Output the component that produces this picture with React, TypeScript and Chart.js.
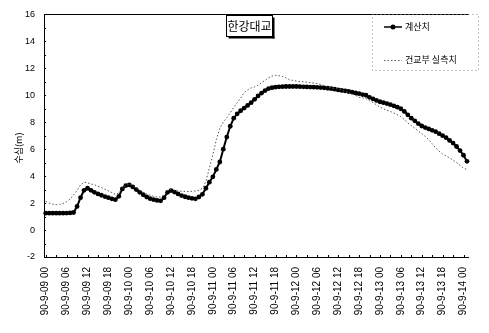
import React, { useEffect, useRef } from "react";
import { Chart, registerables } from "chart.js";

Chart.register(...registerables);

const chartTitle = "한강대교";
const yAxisTitle = "수심(m)";
const seriesNames = ["계산치", "건교부 실측치"];

const tickLabels = [
  "90-9-09 00", "90-9-09 06", "90-9-09 12", "90-9-09 18",
  "90-9-10 00", "90-9-10 06", "90-9-10 12", "90-9-10 18",
  "90-9-11 00", "90-9-11 06", "90-9-11 12", "90-9-11 18",
  "90-9-12 00", "90-9-12 06", "90-9-12 12", "90-9-12 18",
  "90-9-13 00", "90-9-13 06", "90-9-13 12", "90-9-13 18",
  "90-9-14 00",
];

// hourly water depth, computed (계산치)
const computed = [
  1.25, 1.25, 1.25, 1.25, 1.25, 1.25, 1.26, 1.27, 1.3, 1.75,
  2.4, 2.95, 3.1, 2.95, 2.8, 2.68, 2.58, 2.48, 2.4, 2.32,
  2.25, 2.5, 3.05, 3.3, 3.35, 3.2, 3.0, 2.8, 2.62, 2.45,
  2.33, 2.25, 2.2, 2.17, 2.4, 2.8, 2.93, 2.82, 2.68, 2.56,
  2.47, 2.4, 2.35, 2.32, 2.45, 2.65, 3.1, 3.55, 3.95, 4.5,
  5.05, 6.0, 6.9, 7.7, 8.3, 8.62, 8.85, 9.05, 9.25, 9.45,
  9.7, 9.95, 10.16, 10.35, 10.5, 10.56, 10.6, 10.63, 10.64, 10.65,
  10.65, 10.65, 10.65, 10.64, 10.63, 10.62, 10.61, 10.6, 10.59, 10.57,
  10.55, 10.52, 10.49, 10.45, 10.4, 10.36, 10.32, 10.28, 10.23, 10.17,
  10.12, 10.05, 10.0, 9.85, 9.73, 9.62, 9.52, 9.45, 9.38, 9.3,
  9.22, 9.12, 9.0, 8.8, 8.55, 8.3, 8.1, 7.9, 7.72, 7.6,
  7.5, 7.4, 7.3, 7.15, 7.0, 6.85, 6.65, 6.45, 6.2, 5.9,
  5.55, 5.1,
];

// hourly water depth, observed (건교부 실측치)
const observed = [
  2.12, 2.0, 1.92, 1.88, 1.9, 1.98, 2.1, 2.3, 2.6, 2.95,
  3.35, 3.55, 3.5, 3.42, 3.35, 3.25, 3.15, 3.03, 2.9, 2.78,
  2.65, 2.75, 3.1, 3.35, 3.4, 3.3, 3.12, 2.95, 2.8, 2.68,
  2.58, 2.5, 2.45, 2.45, 2.6, 2.95, 3.05, 2.95, 2.9, 2.88,
  2.86, 2.86, 2.87, 2.9, 2.95, 3.1, 3.6, 4.6, 5.6, 6.7,
  7.55, 8.0, 8.35, 8.7, 9.1, 9.45, 9.8, 10.2, 10.4, 10.55,
  10.62, 10.75, 10.95, 11.1, 11.3, 11.42, 11.48, 11.45, 11.4, 11.3,
  11.15, 11.1, 11.05, 11.02, 11.0, 10.97, 10.93, 10.9, 10.88, 10.8,
  10.7, 10.6, 10.55, 10.5, 10.45, 10.38, 10.3, 10.2, 10.08, 10.0,
  9.85, 9.8, 9.75, 9.6, 9.45, 9.3, 9.12, 9.0, 8.9, 8.8,
  8.68, 8.55, 8.42, 8.2, 7.95, 7.75, 7.55, 7.35, 7.15, 6.95,
  6.7, 6.4, 6.1, 5.85, 5.65, 5.5, 5.35, 5.18, 5.0, 4.8,
  4.6, 4.48,
];

const yMin = -2;
const yMax = 16;
const yStep = 2;

const categories = computed.map((_, i) =>
  i % 6 === 0 && tickLabels[i / 6] ? tickLabels[i / 6] : ""
);

const decorations = {
  id: "decorations",
  afterDraw(chart: any) {
    const ctx = chart.ctx as CanvasRenderingContext2D;
    const area = chart.chartArea;
    const xs = chart.scales.x;
    const ys = chart.scales.y;
    ctx.save();

    // small inward tick marks
    ctx.strokeStyle = "#000";
    ctx.lineWidth = 1;
    ctx.beginPath();
    for (let i = 0; i < categories.length; i += 3) {
      const px = Math.round(xs.getPixelForValue(i)) + 0.5;
      ctx.moveTo(px, area.bottom);
      ctx.lineTo(px, area.bottom - 2);
    }
    for (let v = yMin; v <= yMax; v += 1) {
      const py = Math.round(ys.getPixelForValue(v)) + 0.5;
      ctx.moveTo(area.left, py);
      ctx.lineTo(area.left + 2, py);
    }
    ctx.stroke();

    // y-axis title
    ctx.save();
    ctx.translate(19, 148);
    ctx.rotate(-Math.PI / 2);
    ctx.fillStyle = "#000";
    ctx.font = "9px 'Noto Sans CJK KR', 'Liberation Sans', sans-serif";
    ctx.textAlign = "center";
    ctx.textBaseline = "middle";
    ctx.fillText(yAxisTitle, 0, 0);
    ctx.restore();

    // title box with shadow
    const tx = 226.5, ty = 15.5, tw = 46, th = 21;
    ctx.fillStyle = "#000";
    ctx.fillRect(tx + 2, ty + th, tw, 2);
    ctx.fillRect(tx + tw, ty + 2, 2, th);
    ctx.fillStyle = "#fff";
    ctx.fillRect(tx, ty, tw, th);
    ctx.strokeStyle = "#000";
    ctx.lineWidth = 1;
    ctx.strokeRect(tx, ty, tw, th);
    ctx.fillStyle = "#000";
    ctx.font = "12px 'Noto Sans CJK KR', sans-serif";
    ctx.textAlign = "center";
    ctx.textBaseline = "middle";
    ctx.fillText(chartTitle, tx + tw / 2, ty + th / 2 + 0.5);

    // legend box (dotted)
    ctx.strokeStyle = "#888";
    ctx.setLineDash([1, 3]);
    ctx.strokeRect(372.5, 14.5, 106, 56);
    ctx.setLineDash([]);

    // legend item 1
    ctx.strokeStyle = "#000";
    ctx.lineWidth = 1.5;
    ctx.beginPath();
    ctx.moveTo(384, 27);
    ctx.lineTo(402, 27);
    ctx.stroke();
    ctx.beginPath();
    ctx.arc(393, 27, 2.5, 0, Math.PI * 2);
    ctx.fillStyle = "#000";
    ctx.fill();
    ctx.font = "9px 'Noto Sans CJK KR', sans-serif";
    ctx.textAlign = "left";
    ctx.textBaseline = "middle";
    ctx.fillText(seriesNames[0], 405, 27);

    // legend item 2
    ctx.strokeStyle = "#555";
    ctx.lineWidth = 1;
    ctx.setLineDash([1.5, 2]);
    ctx.beginPath();
    ctx.moveTo(384, 60.5);
    ctx.lineTo(402, 60.5);
    ctx.stroke();
    ctx.setLineDash([]);
    ctx.fillText(seriesNames[1], 405, 60);

    ctx.restore();
  },
};

export default function App() {
  const ref = useRef<HTMLCanvasElement | null>(null);

  useEffect(() => {
    if (!ref.current) return;
    const chart = new Chart(ref.current, {
      type: "line",
      data: {
        labels: categories,
        datasets: [
          {
            label: seriesNames[1],
            data: observed,
            borderColor: "#555",
            borderWidth: 1,
            borderDash: [1.5, 2],
            pointRadius: 0,
            fill: false,
            tension: 0,
          },
          {
            label: seriesNames[0],
            data: computed,
            borderColor: "#000",
            borderWidth: 2,
            pointRadius: 2.4,
            pointBorderWidth: 0,
            pointBackgroundColor: "#000",
            fill: false,
            tension: 0,
          },
        ],
      },
      options: {
        animation: false,
        responsive: true,
        maintainAspectRatio: false,
        layout: { padding: { top: 5, right: 4, left: 0, bottom: 0 } },
        plugins: {
          legend: { display: false },
          title: { display: false },
          tooltip: { enabled: false },
        },
        scales: {
          x: {
            type: "category",
            offset: true,
            grid: { display: false, drawTicks: false },
            border: { display: true, color: "#000", width: 1 },
            ticks: {
              autoSkip: false,
              maxRotation: 90,
              minRotation: 90,
              padding: 10,
              color: "#000",
              font: { family: "'Liberation Sans', Arial, sans-serif", size: 10 },
            },
            afterFit: (s: any) => {
              s.height = 76;
            },
          },
          y: {
            min: yMin,
            max: yMax,
            grid: {
              drawTicks: false,
              color: (c: any) => (c.tick && c.tick.value === yMax ? "#000" : "rgba(0,0,0,0)"),
            },
            border: { display: true, color: "#000", width: 1 },
            ticks: {
              stepSize: yStep,
              padding: 9,
              color: "#000",
              font: { family: "'Liberation Sans', Arial, sans-serif", size: 9 },
            },
            afterFit: (s: any) => {
              s.width = 44;
            },
          },
        },
      },
      plugins: [decorations],
    });
    return () => chart.destroy();
  }, []);

  return (
    <div style={{ position: "absolute", left: 0, top: 0, width: 489, height: 333, background: "#fff" }}>
      <canvas ref={ref} />
    </div>
  );
}
